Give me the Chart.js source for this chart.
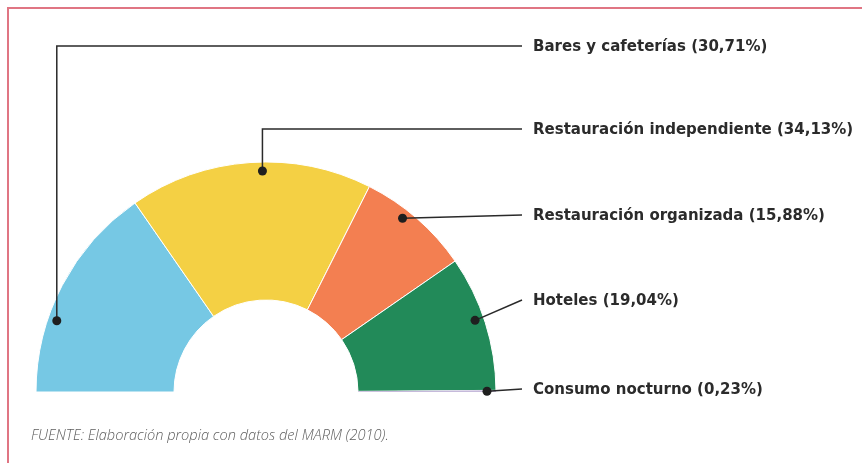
<!DOCTYPE html>
<html lang="es">
<head>
  <meta charset="UTF-8">
  <title>Consumo fuera del hogar por canal</title>
  <style>
    html, body {
      margin: 0;
      padding: 0;
      background: #fff;
    }

    .frame {
      position: relative;
      width: 862px;
      height: 463px;
      overflow: hidden;
    }

    /* red rule top + left, like the printed page */
    .frame::before {
      content: '';
      position: absolute;
      left: 7px;
      top: 7px;
      right: -10px;
      bottom: -10px;
      border-top: 2px solid #e07583;
      border-left: 2px solid #e07583;
    }

    canvas {
      position: absolute;
      left: 0;
      top: 0;
    }

    .source {
      position: absolute;
      left: 31px;
      top: 424px;
      font-family: "Open Sans", sans-serif;
      font-weight: 300;
      font-style: italic;
      font-size: 14.6px;
      color: #5e5e5e;
    }
  </style>
</head>
<body>
  <div class="frame">
    <canvas id="canalChart" width="862" height="463"></canvas>
    <div class="source">FUENTE: Elaboración propia con datos del MARM (2010).</div>
  </div>

  <script src="https://cdn.jsdelivr.net/npm/chart.js"></script>
  <script>
    // data
    const canales = ['Bares y cafeterías', 'Restauración independiente', 'Restauración organizada', 'Hoteles', 'Consumo nocturno'];
    const cuotas = [30.71, 34.13, 15.88, 19.04, 0.23];
    const colores = ['#76c8e4', '#f4d044', '#f37f51', '#228a59', '#c6badb'];

    // where the leader for each slice sits (fraction along the arc) and where its label goes
    const guia = [
      { t: 0.34, y: 46, codo: true },
      { t: 0.55, y: 129, codo: true },
      { t: 0.40, y: 215, codo: false },
      { t: 0.46, y: 300, codo: false },
      { t: 0.50, y: 389, codo: false }
    ];

    const fmt = v => v.toFixed(2).replace('.', ',');

    const leaderPlugin = {
      id: 'leaders',
      afterDatasetsDraw(chart) {
        const c = chart.ctx;
        const arcs = chart.getDatasetMeta(0).data;
        const lineEnd = 522;
        const textX = 533;
        c.save();
        arcs.forEach((arc, i) => {
          const g = guia[i];
          const a = arc.startAngle + (arc.endAngle - arc.startAngle) * g.t;
          const r = arc.outerRadius - 9;
          const px = arc.x + Math.cos(a) * r;
          const py = arc.y + Math.sin(a) * r;

          c.strokeStyle = '#2a2a2a';
          c.lineWidth = 1.5;
          c.beginPath();
          c.moveTo(px, py);
          if (g.codo) {
            c.lineTo(px, g.y);
          }
          c.lineTo(lineEnd, g.y);
          c.stroke();

          c.fillStyle = '#1f1f1f';
          c.beginPath();
          c.arc(px, py, 4.5, 0, Math.PI * 2);
          c.fill();

          c.fillStyle = '#2b2b2b';
          c.font = 'bold 15px "DejaVu Sans", sans-serif';
          c.textBaseline = 'middle';
          c.textAlign = 'left';
          c.fillText(canales[i] + ' (' + fmt(cuotas[i]) + '%)', textX, g.y + 1);
        });
        c.restore();
      }
    };

    const ctx = document.getElementById('canalChart').getContext('2d');
    new Chart(ctx, {
      type: 'doughnut',
      data: {
        labels: canales,
        datasets: [{
          data: cuotas,
          backgroundColor: colores,
          borderColor: '#ffffff',
          borderWidth: [1, 1, 1, 1, 0],
          radius: 230
        }]
      },
      options: {
        responsive: false,
        animation: false,
        rotation: -90,
        circumference: 180,
        cutout: '40%',
        layout: {
          padding: { left: 36, right: 366, top: 162, bottom: 71 }
        },
        plugins: {
          legend: { display: false },
          tooltip: { enabled: false }
        }
      },
      plugins: [leaderPlugin]
    });
  </script>
</body>
</html>
